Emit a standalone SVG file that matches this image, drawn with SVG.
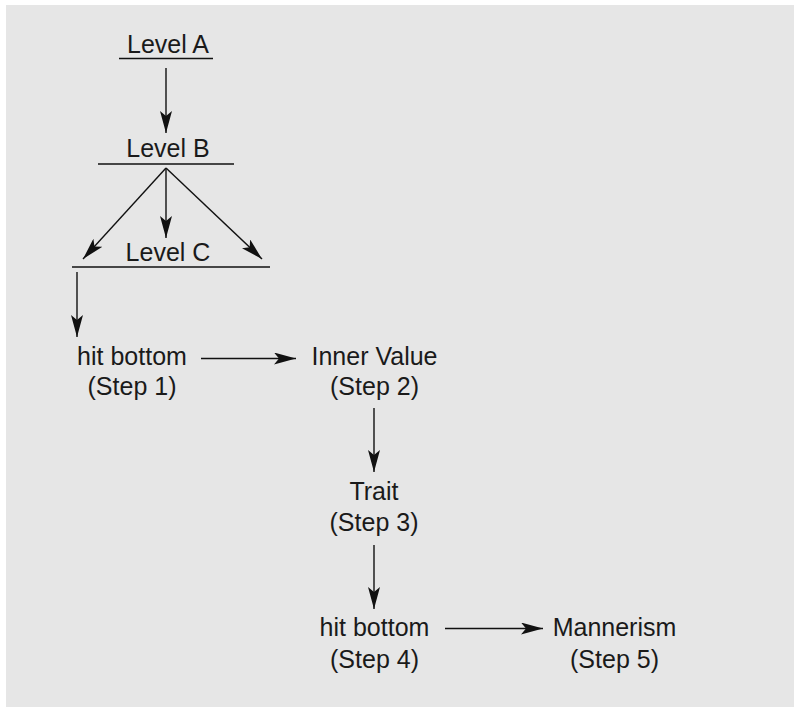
<svg xmlns="http://www.w3.org/2000/svg" width="794" height="707" viewBox="0 0 794 707">
<style>
text{font-family:"Liberation Sans",Arial,sans-serif;font-size:25px;fill:#1a1a1a;text-anchor:middle}
.ln{stroke:#111;stroke-width:1.4;fill:none}
.ar{stroke:#111;stroke-width:1.4;fill:none;marker-end:url(#ah)}
</style>
<defs>
<marker id="ah" markerUnits="userSpaceOnUse" viewBox="0 0 22 12" refX="22" refY="6" markerWidth="22" markerHeight="12" orient="auto">
<path d="M0,0 L22,6 L0,12 L5,6 Z" fill="#111"/>
</marker>
</defs>
<rect x="6" y="5" width="788" height="702" fill="#e6e6e6"/>
<g id="levelA"><text x="168" y="53">Level A</text><line class="ln" x1="119" y1="58.5" x2="213" y2="58.5"/></g>
<g id="levelB"><text x="168" y="157">Level B</text><line class="ln" x1="98" y1="164" x2="234" y2="164"/></g>
<g id="levelC"><text x="168" y="260.5">Level C</text><line class="ln" x1="72" y1="267" x2="270" y2="267"/></g>
<g id="step1"><text x="132" y="365">hit bottom</text><text x="132" y="395">(Step 1)</text></g>
<g id="step2"><text x="374.5" y="365">Inner Value</text><text x="374.5" y="395">(Step 2)</text></g>
<g id="step3"><text x="374" y="500">Trait</text><text x="374" y="531">(Step 3)</text></g>
<g id="step4"><text x="374.5" y="636">hit bottom</text><text x="374.5" y="668">(Step 4)</text></g>
<g id="step5"><text x="614.5" y="636">Mannerism</text><text x="614.5" y="668">(Step 5)</text></g>
<g id="connectors">
<line class="ar" x1="166" y1="68" x2="166" y2="133"/>
<line class="ar" x1="166" y1="168" x2="83" y2="259"/>
<line class="ar" x1="166" y1="168" x2="166" y2="238"/>
<line class="ar" x1="166" y1="168" x2="262" y2="259"/>
<line class="ar" x1="77" y1="272" x2="77" y2="337"/>
<line class="ar" x1="201" y1="358.5" x2="296" y2="358.5"/>
<line class="ar" x1="374" y1="408" x2="374" y2="472"/>
<line class="ar" x1="374" y1="545" x2="374" y2="609"/>
<line class="ar" x1="445" y1="628.5" x2="543" y2="628.5"/>
</g>
</svg>
